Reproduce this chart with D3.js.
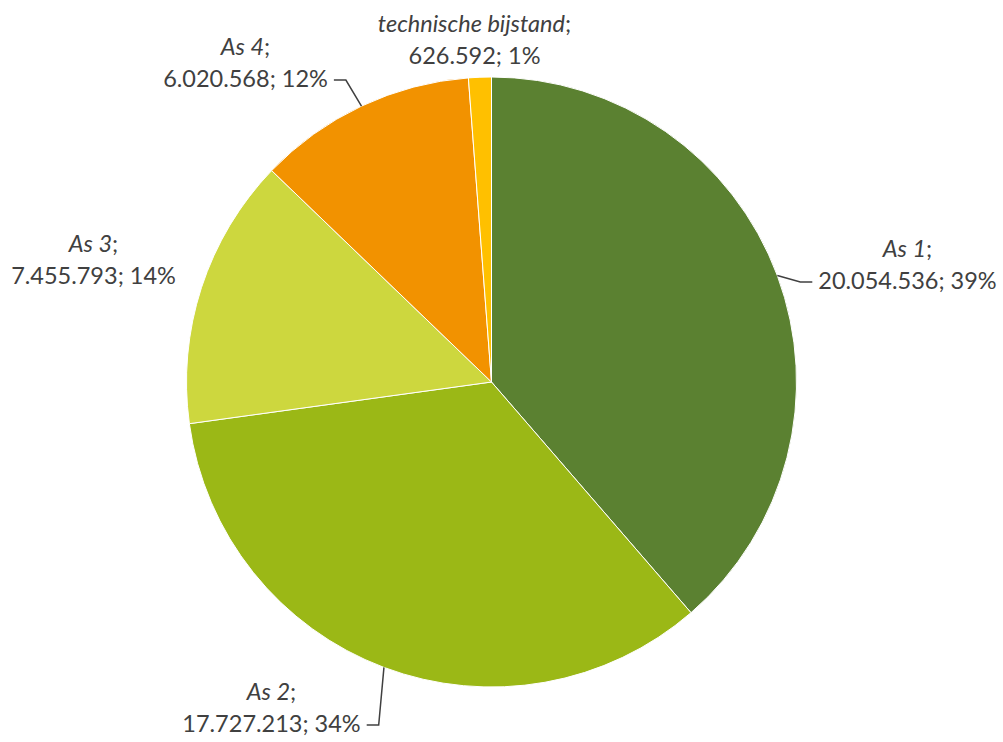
<!DOCTYPE html>
<html>
<head>
<meta charset="utf-8">
<script src="https://cdn.jsdelivr.net/npm/d3@7"></script>
<style>
  body { margin: 0; background: #fff; }
  text { font-family: Lato, "Open Sans", sans-serif; fill: #404040; }
</style>
</head>
<body>
<script>
// chart data
var categories = ["As 1", "As 2", "As 3", "As 4", "technische bijstand"];
var values = [20054536, 17727213, 7455793, 6020568, 626592];
var colors = ["#5b8131", "#9bb816", "#cdd73e", "#f29200", "#ffc000"];

// label placement relative to pie centre (text block centre x, first baseline y), and leader side
var labelPos = [
  {dx: 416, dy: -125, leader: "left"},
  {dx: -220, dy: 318, leader: "right"},
  {dx: -398, dy: -130, leader: null},
  {dx: -246, dy: -327, leader: "right"},
  {dx: -17, dy: -350, leader: null}
];

var width = 1003, height = 742;
var cx = 491.5, cy = 382, radius = 305;
var fontSize = 23.5, lineGap = 32;

var svg = d3.select("body").append("svg")
    .attr("width", width)
    .attr("height", height);

var g = svg.append("g")
    .attr("transform", "translate(" + cx + "," + cy + ")");

var total = d3.sum(values);
var data = categories.map((c, i) => ({name: c, value: values[i], i: i}));

var pie = d3.pie().value(d => d.value).sort(null);
var arc = d3.arc().innerRadius(0).outerRadius(radius);
var arcs = pie(data);

g.selectAll("path.slice")
  .data(arcs)
  .enter().append("path")
    .attr("class", "slice")
    .attr("d", arc)
    .attr("fill", d => colors[d.data.i])
    .attr("stroke", "#fff")
    .attr("stroke-width", 1);

// number format with dots as thousands separator
var nl = d3.formatLocale({decimal: ",", thousands: ".", grouping: [3], currency: ["€", ""]});
var fmt = nl.format(",d");

var labels = g.selectAll("g.label")
  .data(arcs)
  .enter().append("g")
    .attr("class", "label");

labels.each(function(d) {
  var p = labelPos[d.data.i];
  var sel = d3.select(this);
  var t1 = sel.append("text")
      .attr("x", p.dx).attr("y", p.dy)
      .attr("text-anchor", "middle")
      .style("font-size", fontSize + "px");
  t1.append("tspan").style("font-style", "italic").text(d.data.name);
  t1.append("tspan").text(";");
  var t2 = sel.append("text")
      .attr("x", p.dx).attr("y", p.dy + lineGap)
      .attr("text-anchor", "middle")
      .style("font-size", fontSize + "px")
      .text(fmt(d.data.value) + "; " + Math.round(d.data.value / total * 100) + "%");

  if (p.leader) {
    var bb = t2.node().getBBox();
    var mid = (d.startAngle + d.endAngle) / 2;
    var start = [radius * Math.sin(mid), -radius * Math.cos(mid)];
    var ly = p.dy + lineGap - 7;
    var edge = p.leader === "left" ? bb.x : bb.x + bb.width;
    var s = p.leader === "left" ? -1 : 1;
    var elbow = [edge + s * 18, ly];
    var end = [edge + s * 6, ly];
    sel.append("path")
      .attr("d", d3.line()([start, elbow, end]))
      .attr("fill", "none")
      .attr("stroke", "#404040")
      .attr("stroke-width", 1.5);
  }
});
</script>
</body>
</html>
